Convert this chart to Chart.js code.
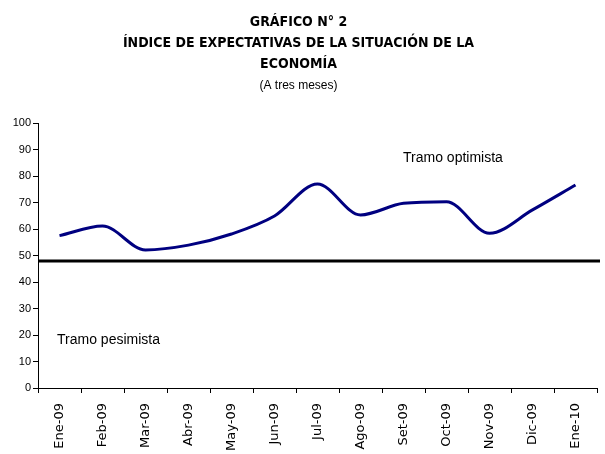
<!DOCTYPE html>
<html>
<head>
<meta charset="utf-8">
<script src="https://cdn.jsdelivr.net/npm/chart.js@4/dist/chart.umd.min.js"></script>
<style>
  body { margin: 0; background: #fff; }
  #wrap { width: 605px; height: 454px; }
</style>
</head>
<body>
<div id="wrap"><canvas id="expect-chart"></canvas></div>
<script>
"use strict";
// data
const month_labels = ['Ene-09', 'Feb-09', 'Mar-09', 'Abr-09', 'May-09', 'Jun-09', 'Jul-09',
                      'Ago-09', 'Set-09', 'Oct-09', 'Nov-09', 'Dic-09', 'Ene-10'];
const index_values = [57.6, 61.2, 52.2, 54.0, 58.2, 65.0, 77.1, 65.4, 69.8, 70.4, 58.5, 67.3, 76.7];
const y_ticks = [0, 10, 20, 30, 40, 50, 60, 70, 80, 90, 100];
const threshold_value = 48;
const zone_labels = ['Tramo optimista', 'Tramo pesimista'];
const zone_label_pos = [[9.15, 87], [1.14, 18]];   // [category index, value]

const narrow_font = "'Liberation Sans Narrow', 'DejaVu Sans Condensed', sans-serif";
const plain_font = "'Liberation Sans', Arial, sans-serif";

// black line between tramo optimista and pesimista, plus zone texts
const zone_plugin = {
    id: 'zones',
    afterDatasetsDraw(chart) {
        const ctx = chart.ctx;
        const area = chart.chartArea;
        const x = chart.scales.x;
        const y = chart.scales.y;
        const y_px = y.getPixelForValue(threshold_value);
        ctx.save();
        ctx.strokeStyle = '#000';
        ctx.lineWidth = 3;
        ctx.beginPath();
        ctx.moveTo(area.left, y_px);
        ctx.lineTo(area.right + 3, y_px);
        ctx.stroke();

        ctx.fillStyle = '#000';
        ctx.font = '14px ' + plain_font;
        ctx.textAlign = 'center';
        ctx.textBaseline = 'middle';
        for (let i = 0; i < zone_labels.length; i++) {
            ctx.fillText(zone_labels[i],
                x.getPixelForValue(zone_label_pos[i][0]),
                y.getPixelForValue(zone_label_pos[i][1]));
        }
        ctx.restore();
    }
};

const chart_ctx = document.getElementById('expect-chart').getContext('2d');
const expect_chart = new Chart(chart_ctx, {
    type: 'line',
    data: {
        labels: month_labels,
        datasets: [{
            label: 'Índice',
            data: index_values,
            borderColor: '#000080',
            borderWidth: 3,
            pointRadius: 0,
            cubicInterpolationMode: 'monotone',
            fill: false,
        }]
    },
    options: {
        responsive: true,
        maintainAspectRatio: false,
        animation: false,
        layout: { padding: { left: 0, right: 8, top: 0, bottom: 0 } },
        plugins: {
            legend: { display: false },
            tooltip: { enabled: false },
            title: {
                display: true,
                text: ['GRÁFICO N° 2', 'ÍNDICE DE EXPECTATIVAS DE LA SITUACIÓN DE LA', 'ECONOMÍA'],
                color: '#000',
                font: { family: narrow_font, size: 14, weight: 'bold', lineHeight: 1.5 },
                padding: { top: 12, bottom: 3 },
            },
            subtitle: {
                display: true,
                text: '(A tres meses)',
                color: '#000',
                font: { family: plain_font, size: 12 },
                padding: { top: 0, bottom: 31 },
            },
        },
        scales: {
            x: {
                offset: true,
                grid: { offset: true, drawOnChartArea: false, tickLength: 5, color: '#000' },
                border: { color: '#000', width: 1 },
                ticks: {
                    autoSkip: false, minRotation: 90, maxRotation: 90, padding: 10,
                    color: '#000', font: { family: "'DejaVu Sans', sans-serif", size: 13 },
                },
                afterFit(scale) { scale.height = 66; },
            },
            y: {
                min: 0,
                max: 100,
                afterBuildTicks(scale) { scale.ticks = y_ticks.map((v) => ({ value: v })); },
                grid: { drawOnChartArea: false, tickLength: 5, color: '#000' },
                border: { color: '#000', width: 1 },
                ticks: { color: '#000', padding: 2, font: { family: plain_font, size: 11 } },
                afterFit(scale) { scale.width = 38; },
            },
        },
    },
    plugins: [zone_plugin],
});
</script>
</body>
</html>
